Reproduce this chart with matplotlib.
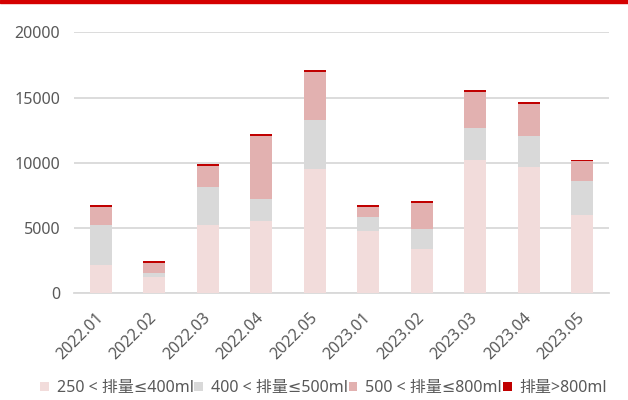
import matplotlib
matplotlib.use("Agg")
import matplotlib.pyplot as plt
import numpy as np

plt.rcParams['font.family'] = ['Noto Sans', 'DejaVu Sans', 'Noto Sans CJK SC']

months = ["2022.01", "2022.02", "2022.03", "2022.04", "2022.05",
          "2023.01", "2023.02", "2023.03", "2023.04", "2023.05"]
s_250_400 = [2160, 1250, 5220, 5520, 9490, 4760, 3380, 10250, 9640, 5980]
s_400_500 = [3060, 300, 2900, 1680, 3810, 1070, 1530, 2450, 2440, 2590]
s_500_800 = [1370, 770, 1670, 4880, 3670, 760, 1980, 2740, 2450, 1530]
s_800_up = [140, 150, 150, 150, 150, 150, 150, 150, 150, 150]

series = [
    ("250 < 排量≤400ml", s_250_400, "#F2DCDB"),
    ("400 < 排量≤500ml", s_400_500, "#D9D9D9"),
    ("500 < 排量≤800ml", s_500_800, "#E2B1B0"),
    ("排量>800ml", s_800_up, "#C00000"),
]

fig = plt.figure(figsize=(6.28, 4.0), dpi=100)
ax = fig.add_axes([74/628, 1 - 293.3/400, 535/628, 261/400])

x = np.arange(len(months))
bottom = np.zeros(len(months))
handles = []
for name, vals, col in series:
    v = np.array(vals, dtype=float)
    b = ax.bar(x, v, bottom=bottom, width=0.41, color=col, label=name, zorder=3)
    handles.append(b)
    bottom += v

ax.set_xlim(-0.5, len(months) - 0.5)
ax.set_ylim(0, 20000)
ax.set_yticks([0, 5000, 10000, 15000, 20000])
ax.yaxis.grid(True, color="#D9D9D9", linewidth=1.3, zorder=0)
ax.set_axisbelow(True)
for s in ["top", "right", "left"]:
    ax.spines[s].set_visible(False)
ax.spines["bottom"].set_color("#D9D9D9")
ax.spines["bottom"].set_linewidth(1.3)
ax.tick_params(axis="both", length=0, colors="#595959", labelsize=11.5)
ax.tick_params(axis="y", pad=10)
ax.set_xticks(x)
ax.set_xticklabels(months, rotation=45, ha="right", rotation_mode="anchor", va="center")
ax.tick_params(axis="x", pad=16)

leg = fig.legend(handles=handles, loc="center", bbox_to_anchor=(0.515, 1 - 388/400),
                 ncol=4, frameon=False, fontsize=11.5, handlelength=0.55, handleheight=0.55,
                 handletextpad=0.5, columnspacing=0.05, labelcolor="#595959")

# red band at top
fig.patches.append(matplotlib.patches.Rectangle((0, 1 - 3/400), 1, 3/400,
                   transform=fig.transFigure, color="#D50000", zorder=10))

fig.savefig("out.png", dpi=100)
